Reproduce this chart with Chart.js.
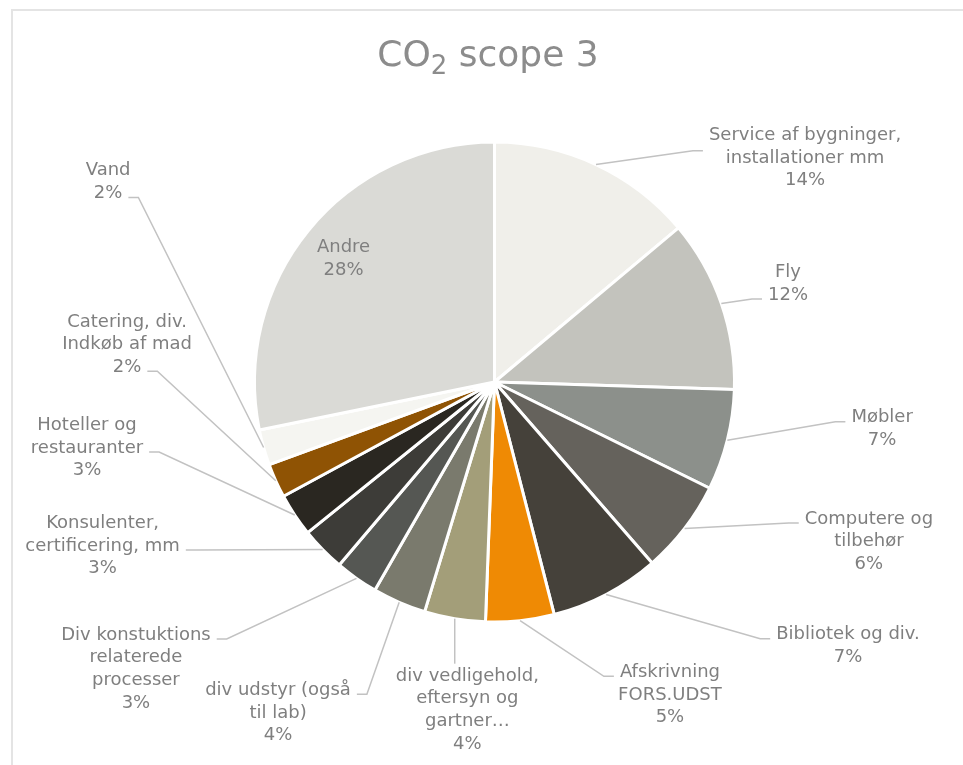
<!DOCTYPE html>
<html>
<head>
<meta charset="utf-8">
<script src="https://cdn.jsdelivr.net/npm/chart.js@4/dist/chart.umd.min.js"></script>
<style>
  html, body { margin: 0; padding: 0; background: #fff; }
  canvas { display: block; }
</style>
</head>
<body>
<canvas id="c" width="963" height="765"></canvas>
<script>
// Scope 3 CO2 categories (label lines as wrapped in the chart)
const categories = [
  ['Service af bygninger,', 'installationer mm'],
  ['Fly'],
  ['Møbler'],
  ['Computere og', 'tilbehør'],
  ['Bibliotek og div.'],
  ['Afskrivning', 'FORS.UDST'],
  ['div vedligehold,', 'eftersyn og', 'gartner…'],
  ['div udstyr (også', 'til lab)'],
  ['Div konstuktions', 'relaterede', 'processer'],
  ['Konsulenter,', 'certificering, mm'],
  ['Hoteller og', 'restauranter'],
  ['Catering, div.', 'Indkøb af mad'],
  ['Vand'],
  ['Andre']
];

// Share of total scope 3 emissions, percent
const shares = [13.9, 11.6, 6.8, 6.3, 7.4, 4.6, 4.1, 3.6, 2.9, 3.0, 2.9, 2.3, 2.4, 28.2];

const sliceColors = [
  '#F0EFEA', '#C3C3BD', '#8C908B', '#65625C', '#45413A', '#EF8A04', '#A39E79',
  '#7A7A6D', '#555753', '#3D3C38', '#2A2721', '#8F5304', '#F5F5F1', '#DADAD6'
];

const titleMain = 'CO';
const titleSub = '2';
const titleRest = ' scope 3';

// Label block centre, in units of the pie radius from its centre;
// leader style and the (fractional) text line the leader meets.
const labelLayout = [
  [1.294, -0.933, 'side', 0.5],
  [1.223, -0.410, 'side', 1],
  [1.615, 0.196, 'side', 0],
  [1.560, 0.665, 'side', 0],
  [1.473, 1.100, 'side', 0],
  [0.731, 1.304, 'side', 0],
  [-0.113, 1.367, 'below', 0],
  [-0.902, 1.379, 'side', 0],
  [-1.494, 1.196, 'side', 0],
  [-1.633, 0.683, 'side', 1],
  [-1.698, 0.275, 'side', 1],
  [-1.531, -0.156, 'side', 2],
  [-1.610, -0.833, 'side', 1],
  [-0.629, -0.513, 'inside', 0]
];

const FONT = '"DejaVu Sans", Verdana, sans-serif';
const LINE_H = 22.7;

const sliceLabels = {
  id: 'sliceLabels',
  beforeDraw(chart) {
    const ctx = chart.ctx;
    ctx.save();
    ctx.fillStyle = '#ffffff';
    ctx.fillRect(0, 0, chart.width, chart.height);
    ctx.fillStyle = '#e4e4e4';
    ctx.fillRect(11, 9, 2, chart.height);
    ctx.fillRect(11, 9, chart.width, 2);
    ctx.restore();
  },
  afterDatasetsDraw(chart) {
    const ctx = chart.ctx;
    const meta = chart.getDatasetMeta(0);
    const data = chart.data.datasets[0].data;
    const total = data.reduce((a, b) => a + b, 0);
    ctx.save();
    ctx.font = '18px ' + FONT;
    ctx.textAlign = 'center';
    ctx.textBaseline = 'middle';
    meta.data.forEach((arc, i) => {
      const p = arc.getProps(['x', 'y', 'outerRadius', 'startAngle', 'endAngle'], true);
      const R = p.outerRadius;
      const mid = (p.startAngle + p.endAngle) / 2;
      const lines = categories[i].concat(Math.round(data[i] / total * 100) + '%');
      const [ox, oy, mode, yIdx] = labelLayout[i];
      const cx = p.x + ox * R;
      const cy = p.y + oy * R;
      const n = lines.length;
      const lineY = k => cy + (k - (n - 1) / 2) * LINE_H;
      const widths = lines.map(s => ctx.measureText(s).width);

      if (mode !== 'inside') {
        const ex = p.x + Math.cos(mid) * R;
        const ey = p.y + Math.sin(mid) * R;
        ctx.beginPath();
        ctx.strokeStyle = '#c2c2c2';
        ctx.lineWidth = 1.5;
        ctx.moveTo(ex, ey);
        if (mode === 'below') {
          ctx.lineTo(ex, lineY(0) - LINE_H / 2 - 1);
        } else {
          const w = widths[Math.floor(yIdx)];
          const ay = lineY(yIdx) + 4;
          const onRight = ex < cx;
          const tx = onRight ? cx - w / 2 - 6 : cx + w / 2 + 6;
          const hx = onRight ? tx - 10 : tx + 10;
          ctx.lineTo(hx, ay);
          ctx.lineTo(tx, ay);
        }
        ctx.stroke();
      }

      ctx.fillStyle = '#7f7f7f';
      lines.forEach((s, k) => ctx.fillText(s, cx, lineY(k)));
    });
    ctx.restore();

    // Title with subscript
    ctx.save();
    const big = '36px ' + FONT;
    const small = '26px ' + FONT;
    ctx.font = big;
    const w1 = ctx.measureText(titleMain).width;
    const w3 = ctx.measureText(titleRest).width;
    ctx.font = small;
    const w2 = ctx.measureText(titleSub).width;
    const x0 = 488 - (w1 + w2 + w3) / 2;
    const base = 66;
    ctx.textAlign = 'left';
    ctx.textBaseline = 'alphabetic';
    ctx.fillStyle = '#8c8c8c';
    ctx.font = big;
    ctx.fillText(titleMain, x0, base);
    ctx.font = small;
    ctx.fillText(titleSub, x0 + w1, base + 8);
    ctx.font = big;
    ctx.fillText(titleRest, x0 + w1 + w2, base);
    ctx.restore();
  }
};

new Chart(document.getElementById('c').getContext('2d'), {
  type: 'pie',
  data: {
    labels: categories.map(l => l.join(' ')),
    datasets: [{
      data: shares,
      backgroundColor: sliceColors,
      borderColor: '#ffffff',
      borderWidth: 3,
      hoverOffset: 0,
      offset: 0
    }]
  },
  options: {
    responsive: false,
    animation: false,
    events: [],
    layout: { padding: { left: 253, top: 140.5, right: 227, bottom: 141.5 } },
    plugins: {
      legend: { display: false },
      title: { display: false },
      tooltip: { enabled: false }
    }
  },
  plugins: [sliceLabels]
});
</script>
</body>
</html>
